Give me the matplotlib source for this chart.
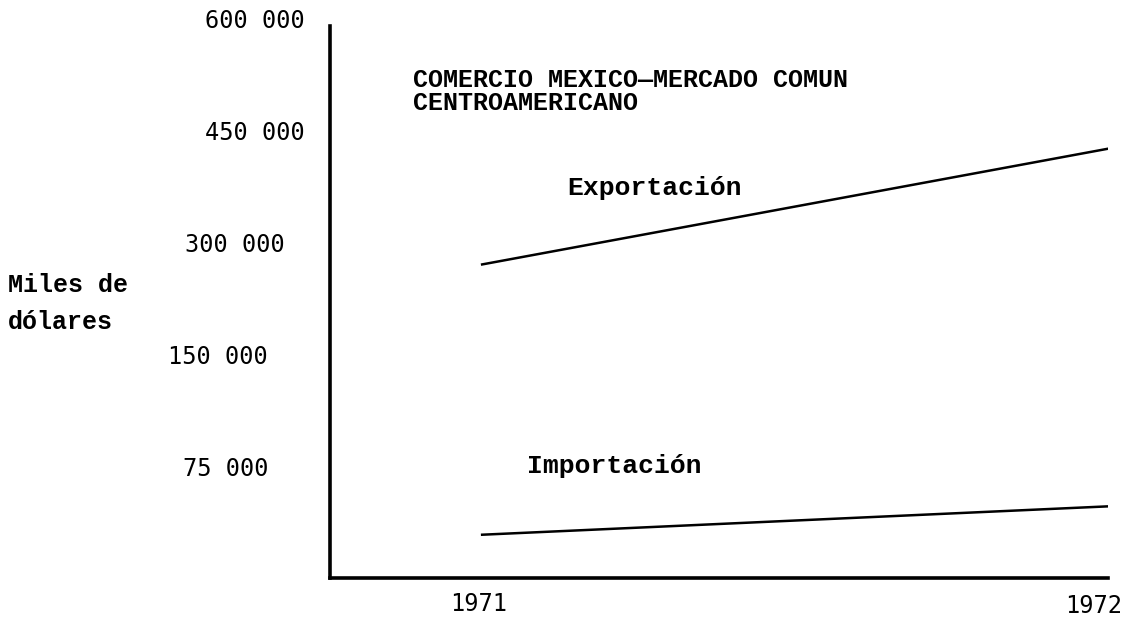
import matplotlib
matplotlib.use("Agg")
import matplotlib.pyplot as plt
from matplotlib.transforms import ScaledTranslation
import numpy as np

# === Datos (miles de dólares) ===
years = [1971, 1972]
exportacion = [270000, 425000]
importacion = [29000, 48000]

y_ticks = [75000, 150000, 300000, 450000, 600000]
y_labels = ["75 000", "150 000", "300 000", "450 000", "600 000"]

# escala no lineal: las marcas del eje van equiespaciadas
scale_vals = [0] + y_ticks
scale_idx = np.arange(len(scale_vals))


def fwd(v):
    return np.interp(v, scale_vals, scale_idx)


def inv(i):
    return np.interp(i, scale_idx, scale_vals)


mono = "Liberation Mono"
sans_mono = "DejaVu Sans Mono"

fig = plt.figure(figsize=(11.33, 6.22), dpi=100)
ax = fig.add_axes([0.2913, 0.0707, 0.6867, 0.9003])

ax.plot(years, exportacion, color="black", lw=1.8)
ax.plot(years, importacion, color="black", lw=1.8)

ax.set_yscale("function", functions=(fwd, inv))
ax.set_ylim(0, 600000)
ax.set_xlim(1970.757, 1972)

ax.set_yticks(y_ticks)
ax.set_yticklabels(y_labels, family=sans_mono, fontsize=17)
ax.set_xticks(years)
ax.set_xticklabels([str(y) for y in years], family=sans_mono, fontsize=17)
ax.tick_params(axis="y", length=0, pad=18)
ax.tick_params(axis="x", length=0, pad=10)

# etiquetas escalonadas como en la máquina de escribir
shifts = [-37, -37, -20, 0, 0]
for lbl, dx in zip(ax.get_yticklabels(), shifts):
    lbl.set_transform(lbl.get_transform() + ScaledTranslation(dx / 100, 0, fig.dpi_scale_trans))
for lbl, (dx, dy) in zip(ax.get_xticklabels(), [(-4, 0), (-14, -2)]):
    lbl.set_transform(lbl.get_transform() + ScaledTranslation(dx / 100, dy / 100, fig.dpi_scale_trans))

for s in ["top", "right"]:
    ax.spines[s].set_visible(False)
ax.spines["left"].set_linewidth(2.6)
ax.spines["bottom"].set_linewidth(2.6)
ax.spines["left"].set_bounds(0, 590000)

# textos
ax.text(0.107, 0.868, "COMERCIO MEXICO\u2014MERCADO COMUN\nCENTROAMERICANO",
        transform=ax.transAxes, family=mono, fontsize=18, fontweight="bold",
        linespacing=0.95, va="center", ha="left")
ax.text(1971.136, 372000, "Exportación", family=mono, fontsize=19,
        fontweight="bold", va="center", ha="left")
ax.text(1971.072, 75000, "Importación", family=mono, fontsize=19,
        fontweight="bold", va="center", ha="left")

fig.text(0.007, 1 - 285 / 622, "Miles de", family=mono, fontsize=18,
         fontweight="bold", va="center", ha="left")
fig.text(0.007, 1 - 322 / 622, "dólares", family=mono, fontsize=18,
         fontweight="bold", va="center", ha="left")

fig.savefig("out.png", dpi=100)
